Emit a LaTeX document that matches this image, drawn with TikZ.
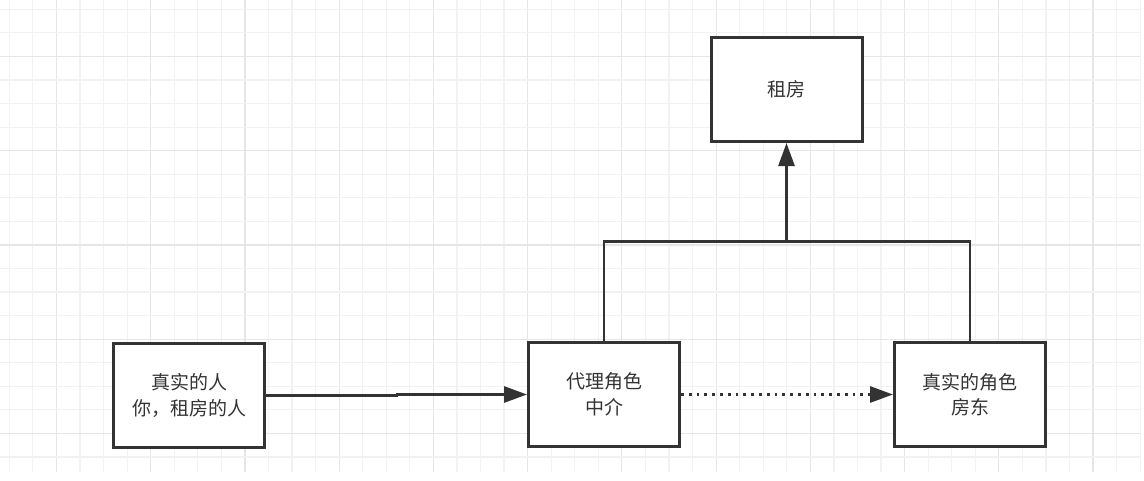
\documentclass[tikz,border=0pt]{standalone}
\usepackage{fontspec}
\usepackage{tikz}
\usetikzlibrary{arrows.meta}
\newfontfamily\cjk{Noto Sans CJK SC}
\tikzset{>={Triangle[width=16pt,length=23pt]}}
\definecolor{ink}{HTML}{333333}
\definecolor{gridminor}{HTML}{F2F2F2}
\definecolor{gridmajor}{HTML}{E6E6E6}
\tikzset{
  rolebox/.style={draw=ink, line width=3pt, fill=white, minimum width=151pt,
    minimum height=104pt, align=center, text=ink,
    font=\cjk\fontsize{19pt}{25.5pt}\selectfont},
  conn/.style={draw=ink, line width=2.8pt}
}

\begin{document}
\begin{tikzpicture}[x=1pt, y=-1pt]
\newcommand\G{23.56}
\useasboundingbox (0,0) rectangle (1144,480);

% grid
\foreach \i in {0,...,48}{
  \pgfmathsetmacro\gx{9.3+\i*\G}
  \pgfmathtruncatemacro\m{mod(\i+2,4)}
  \ifnum\m=0
    \draw[gridmajor, line width=1.2pt] (\gx,0) -- (\gx,472);
  \else
    \draw[gridminor, line width=1.2pt] (\gx,0) -- (\gx,472);
  \fi
}
\foreach \j in {0,...,19}{
  \pgfmathsetmacro\gy{9.3+\j*\G}
  \pgfmathtruncatemacro\m{mod(\j+2,4)}
  \ifnum\m=0
    \draw[gridmajor, line width=1.2pt] (0,\gy) -- (1140,\gy);
  \else
    \draw[gridminor, line width=1.2pt] (0,\gy) -- (1140,\gy);
  \fi
}

\node[rolebox] (person)   at (189,395.5) {真实的人\\你，租房的人};
\node[rolebox] (proxy)    at (604,394.5) {代理角色\\中介};
\node[rolebox] (landlord) at (970,394.5) {真实的角色\\房东};
\node[rolebox] (rent)     at (786.5,89.5) {租房};

\coordinate (jog) at (397,395);
\coordinate (join) at (786.5,241.7);

\draw[conn, ->] (person.east) -- (person.east -| jog) |- (proxy.west);
\draw[conn, ->, dash pattern=on 2.8pt off 5pt] (proxy.east) -- (landlord.west);
\draw[conn] (proxy.north) |- (join) -| (landlord.north);
\draw[conn, ->] (join) -- (rent.south);
\end{tikzpicture}
\end{document}
